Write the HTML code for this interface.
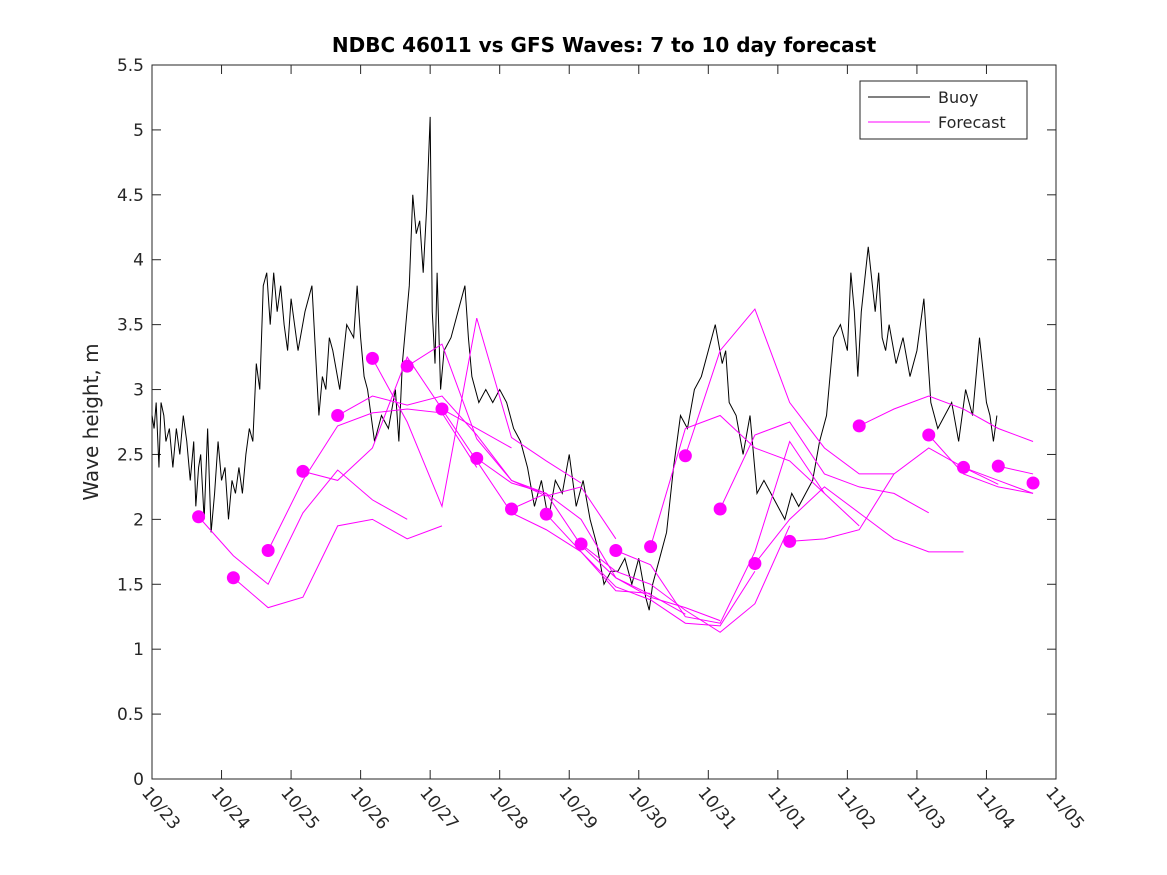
<!DOCTYPE html>
<html><head><meta charset="utf-8"><style>body{margin:0;background:#fff}svg{display:block;font-family:"DejaVu Sans","Liberation Sans",sans-serif}</style></head>
<body>
<svg id="chart" width="1167" height="875" xmlns="http://www.w3.org/2000/svg">
<rect width="1167" height="875" fill="#fff"/>
<text x="604" y="52" text-anchor="middle" font-size="20" font-weight="bold">NDBC 46011 vs GFS Waves: 7 to 10 day forecast</text>
<text transform="translate(98,422) rotate(-90)" text-anchor="middle" font-size="20" fill="#262626">Wave height, m</text>
<g id="axes"></g>
<g id="series"></g>
<g>
<rect x="860" y="81" width="167" height="58" fill="#fff" stroke="#262626" stroke-width="1"/>
<line x1="868" y1="97" x2="930" y2="97" stroke="#000"/>
<text x="938" y="103" font-size="16" fill="#262626">Buoy</text>
<line x1="868" y1="122" x2="930" y2="122" stroke="#f0f"/>
<text x="938" y="128" font-size="16" fill="#262626">Forecast</text>
</g>
</svg>
<script>
const xTickLabels=["10/23","10/24","10/25","10/26","10/27","10/28","10/29","10/30","10/31","11/01","11/02","11/03","11/04","11/05"];
const yTicks=[0,0.5,1,1.5,2,2.5,3,3.5,4,4.5,5,5.5];
const buoyDays=[0,0.03,0.06,0.1,0.13,0.17,0.2,0.25,0.3,0.35,0.4,0.45,0.5,0.55,0.6,0.63,0.67,0.7,0.75,0.8,0.85,0.9,0.95,1.0,1.05,1.1,1.15,1.2,1.25,1.3,1.35,1.4,1.45,1.5,1.55,1.6,1.65,1.7,1.75,1.8,1.85,1.9,1.95,2.0,2.1,2.2,2.3,2.4,2.45,2.5,2.55,2.6,2.7,2.8,2.9,2.95,3.0,3.05,3.1,3.15,3.2,3.3,3.4,3.5,3.55,3.6,3.65,3.7,3.75,3.8,3.85,3.9,3.95,4.0,4.03,4.07,4.1,4.15,4.2,4.3,4.4,4.5,4.55,4.6,4.7,4.8,4.9,5.0,5.1,5.2,5.3,5.4,5.5,5.6,5.7,5.8,5.9,6.0,6.1,6.2,6.3,6.4,6.5,6.6,6.7,6.8,6.9,7.0,7.1,7.15,7.2,7.3,7.4,7.5,7.6,7.7,7.8,7.9,8.0,8.1,8.2,8.25,8.3,8.4,8.5,8.6,8.7,8.8,8.9,9.0,9.1,9.2,9.3,9.4,9.5,9.6,9.7,9.8,9.9,10.0,10.05,10.1,10.15,10.2,10.3,10.4,10.45,10.5,10.55,10.6,10.7,10.8,10.9,11.0,11.1,11.2,11.3,11.4,11.5,11.6,11.7,11.8,11.9,12.0,12.05,12.1,12.15,12.2,12.25,12.3,12.35];
const buoyVals=[2.8,2.7,2.9,2.4,2.9,2.8,2.6,2.7,2.4,2.7,2.5,2.8,2.6,2.3,2.6,2.1,2.4,2.5,2.0,2.7,1.9,2.2,2.6,2.3,2.4,2.0,2.3,2.2,2.4,2.2,2.5,2.7,2.6,3.2,3.0,3.8,3.9,3.5,3.9,3.6,3.8,3.5,3.3,3.7,3.3,3.6,3.8,2.8,3.1,3.0,3.4,3.3,3.0,3.5,3.4,3.8,3.4,3.1,3.0,2.8,2.6,2.8,2.7,3.0,2.6,3.2,3.5,3.8,4.5,4.2,4.3,3.9,4.4,5.1,3.6,3.2,3.9,3.0,3.3,3.4,3.6,3.8,3.4,3.1,2.9,3.0,2.9,3.0,2.9,2.7,2.6,2.4,2.1,2.3,2.0,2.3,2.2,2.5,2.1,2.3,2.0,1.8,1.5,1.6,1.6,1.7,1.5,1.7,1.4,1.3,1.5,1.7,1.9,2.4,2.8,2.7,3.0,3.1,3.3,3.5,3.2,3.3,2.9,2.8,2.5,2.8,2.2,2.3,2.2,2.1,2.0,2.2,2.1,2.2,2.3,2.6,2.8,3.4,3.5,3.3,3.9,3.6,3.1,3.6,4.1,3.6,3.9,3.4,3.3,3.5,3.2,3.4,3.1,3.3,3.7,2.9,2.7,2.8,2.9,2.6,3.0,2.8,3.4,2.9,2.8,2.6,2.8];
const fcStarts=[0.67,1.17,1.67,2.17,2.67,3.17,3.67,4.17,4.67,5.17,5.67,6.17,6.67,7.17,7.67,8.17,8.67,9.17,10.17,11.17,11.67,12.17,12.67];
const fcVals=[
[2.02,1.72,1.50,2.05,2.38,2.15,2.0],
[1.55,1.32,1.40,1.95,2.0,1.85,1.95],
[1.76,2.3,2.72,2.82,2.85,2.82,2.4],
[2.37,2.3,2.55,3.25,2.85,2.7,2.55],
[2.8,2.95,2.88,2.95,2.65,2.3,2.2],
[3.24,2.75,2.1,3.55,2.63,2.45,2.28],
[3.18,3.35,2.62,2.3,2.18,2.25,1.85],
[2.85,2.45,2.05,1.92,1.75,1.45,1.43],
[2.47,2.28,2.2,2.0,1.55,1.42,1.27],
[2.08,2.2,1.8,1.55,1.4,1.32,1.22],
[2.04,1.75,1.48,1.38,1.2,1.18,1.6],
[1.81,1.6,1.5,1.3,1.13,1.35,1.95],
[1.76,1.65,1.25,1.2,1.75,2.6,2.2],
[1.79,2.7,2.8,2.55,2.45,2.2,1.95],
[2.49,3.3,3.62,2.9,2.55,2.35,2.35],
[2.08,2.65,2.75,2.35,2.25,2.2,2.05],
[1.66,2.0,2.25,2.05,1.85,1.75,1.75],
[1.83,1.85,1.92,2.35,2.55,2.4,2.27],
[2.72,2.85,2.95,2.85,2.7,2.6,2.45],
[2.65,2.35,2.25,2.2,2.18,1.95,1.78],
[2.40,2.3,2.2,2.1],
[2.41,2.35,2.1],
[2.28,2.0]];
const X0=152,X1=1056,Y0=779,Y1=65;
const xs=d=>X0+(X1-X0)*d/13;
const ys=v=>Y0-(Y0-Y1)*v/5.5;
const NS="http://www.w3.org/2000/svg";
function mk(t,a,p){const e=document.createElementNS(NS,t);for(const k in a)e.setAttribute(k,a[k]);p.appendChild(e);return e;}
const ax=document.getElementById('axes'),sr=document.getElementById('series');
const box=mk('rect',{x:X0,y:Y1,width:X1-X0,height:Y0-Y1,fill:'none',stroke:'#262626','stroke-width':1},ax);


yTicks.forEach(v=>{const y=ys(v);
mk('line',{x1:X0,x2:X0+9,y1:y,y2:y,stroke:'#262626'},ax);mk('line',{x1:X1,x2:X1-9,y1:y,y2:y,stroke:'#262626'},ax);
const t=mk('text',{x:X0-8,y:y+6,'text-anchor':'end','font-size':17,fill:'#262626'},ax);t.textContent=String(v);

});
xTickLabels.forEach((s,i)=>{const x=xs(i);
mk('line',{x1:x,x2:x,y1:Y0,y2:Y0-9,stroke:'#262626'},ax);mk('line',{x1:x,x2:x,y1:Y1,y2:Y1+9,stroke:'#262626'},ax);
const t=mk('text',{transform:`translate(${x-11},${Y0+14}) rotate(50)`,'font-size':17,fill:'#262626'},ax);t.textContent=s;

});
const bp=mk('polyline',{points:buoyDays.map((d,i)=>xs(d)+','+ys(buoyVals[i])).join(' '),fill:'none',stroke:'#000','stroke-width':1},sr);


fcStarts.forEach((s,i)=>{const pts=fcVals[i].map((v,j)=>[s+0.5*j,v]).filter(p=>p[0]<=13);
const l=mk('polyline',{points:pts.map(p=>xs(p[0])+','+ys(p[1])).join(' '),fill:'none',stroke:'#f0f','stroke-width':1},sr);

});
fcStarts.forEach((s,i)=>{const c=mk('circle',{cx:xs(s),cy:ys(fcVals[i][0]),r:6.5,fill:'#f0f'},sr);

});
</script>
</body></html>
